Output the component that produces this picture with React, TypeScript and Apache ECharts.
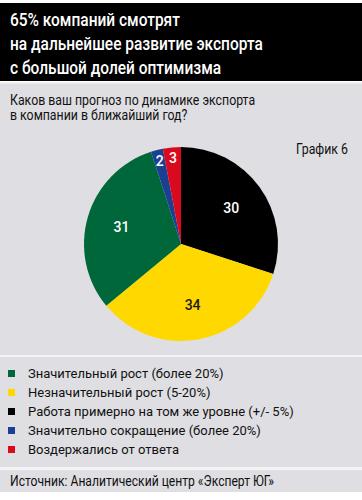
import React, { useEffect, useRef } from "react";
import * as echarts from "echarts";

// Data (pie order, clockwise from 12 o'clock)
const sliceNames = [
  "Работа примерно на том же уровне (+/- 5%)",
  "Незначительный рост (5-20%)",
  "Значительный рост (более 20%)",
  "Значительно сокращение (более 20%)",
  "Воздержались от ответа",
];
const sliceValues = [30, 34, 31, 2, 3];
const sliceColors = ["#000000", "#ffd800", "#00673a", "#1b3f92", "#da0a1e"];
const labelColors = ["#ffffff", "#1a1a1a", "#ffffff", "#ffffff", "#ffffff"];
const bigLabelShow = [true, true, true, false, false];

// Legend order
const legendOrder = [
  "Значительный рост (более 20%)",
  "Незначительный рост (5-20%)",
  "Работа примерно на том же уровне (+/- 5%)",
  "Значительно сокращение (более 20%)",
  "Воздержались от ответа",
];

const titleLines = [
  "65% компаний смотрят",
  "на дальнейшее развитие экспорта",
  "с большой долей оптимизма",
];
const subtitleLines = [
  "Каков ваш прогноз по динамике экспорта",
  "в компании в ближайший год?",
];
const chartTag = "График 6";
const sourceText = "Источник: Аналитический центр «Эксперт ЮГ»";

const FONT = "Roboto, 'Liberation Sans', sans-serif";
const CENTER = [181, 244];
const R = 97;

export default function App() {
  const ref = useRef<HTMLDivElement>(null);
  useEffect(() => {
    document.body.style.margin = "0";
    const chart = echarts.init(ref.current!, null, { renderer: "svg" });

    const baseData = sliceNames.map((n, i) => ({
      name: n,
      value: sliceValues[i],
      itemStyle: { color: sliceColors[i] },
    }));

    const labelData = (showArr: boolean[]) =>
      sliceNames.map((n, i) => ({
        name: n,
        value: sliceValues[i],
        itemStyle: { color: "rgba(0,0,0,0)" },
        label: { show: showArr[i], color: labelColors[i] },
      }));

    const graphic: any[] = [
      { type: "rect", z: -10, shape: { x: 0, y: 82, width: 362, height: 410 }, style: { fill: "#dfdfe3" } },
      { type: "rect", z: -9, shape: { x: 0, y: 3, width: 362, height: 78 }, style: { fill: "#000000" } },
      { type: "rect", z: -9, shape: { x: 0, y: 82, width: 362, height: 1.5 }, style: { fill: "#f2f2f4" } },
      { type: "rect", z: -9, shape: { x: 0, y: 355, width: 362, height: 2 }, style: { fill: "#f4f4f6" } },
      { type: "rect", z: -9, shape: { x: 0, y: 467, width: 362, height: 3 }, style: { fill: "#f4f4f6" } },
    ];
    titleLines.forEach((t, i) => {
      graphic.push({
        type: "text",
        x: 10,
        y: 20 + i * 24,
        scaleX: 0.86,
        style: { text: t, fill: "#ffffff", fontSize: 18, fontFamily: FONT, fontWeight: 500, verticalAlign: "middle" },
      });
    });
    subtitleLines.forEach((t, i) => {
      graphic.push({
        type: "text",
        x: 10,
        y: 100 + i * 15,
        scaleX: 0.88,
        style: { text: t, fill: "#111111", fontSize: 14, fontFamily: FONT, verticalAlign: "middle" },
      });
    });
    graphic.push({
      type: "text",
      x: 348,
      y: 149,
      scaleX: 0.88,
      style: { text: chartTag, fill: "#111111", fontSize: 14, fontFamily: FONT, align: "right", verticalAlign: "middle" },
    });
    graphic.push({
      type: "text",
      x: 10,
      y: 481,
      scaleX: 0.866,
      style: { text: sourceText, fill: "#111111", fontSize: 14, fontFamily: FONT, verticalAlign: "middle" },
    });

    chart.setOption({
      animation: false,
      backgroundColor: "#ffffff",
      graphic,
      legend: {
        orient: "vertical",
        left: 8,
        top: 364,
        padding: 0,
        itemGap: 0,
        itemWidth: 7,
        itemHeight: 7,
        icon: "rect",
        selectedMode: false,
        data: legendOrder,
        textStyle: { fontSize: 13, fontFamily: FONT, color: "#111111", lineHeight: 19, padding: [0, 0, 0, 8] },
      },
      series: [
        {
          type: "pie",
          center: CENTER,
          radius: R,
          startAngle: 90,
          clockwise: true,
          silent: true,
          label: { show: false },
          labelLine: { show: false },
          data: baseData,
        },
        {
          type: "pie",
          center: CENTER,
          radius: [21, R],
          startAngle: 90,
          clockwise: true,
          silent: true,
          label: { show: true, position: "inside", formatter: "{c}", fontSize: 14, fontWeight: 500, fontFamily: FONT },
          labelLine: { show: false },
          data: labelData(bigLabelShow),
        },
        {
          type: "pie",
          center: CENTER,
          radius: [69, R],
          startAngle: 90,
          clockwise: true,
          silent: true,
          label: { show: true, position: "inside", formatter: "{c}", fontSize: 14, fontWeight: 500, fontFamily: FONT },
          labelLine: { show: false },
          data: labelData(bigLabelShow.map((b) => !b)),
        },
      ],
    });
    return () => chart.dispose();
  }, []);
  return <div ref={ref} style={{ width: 362, height: 500 }} />;
}
